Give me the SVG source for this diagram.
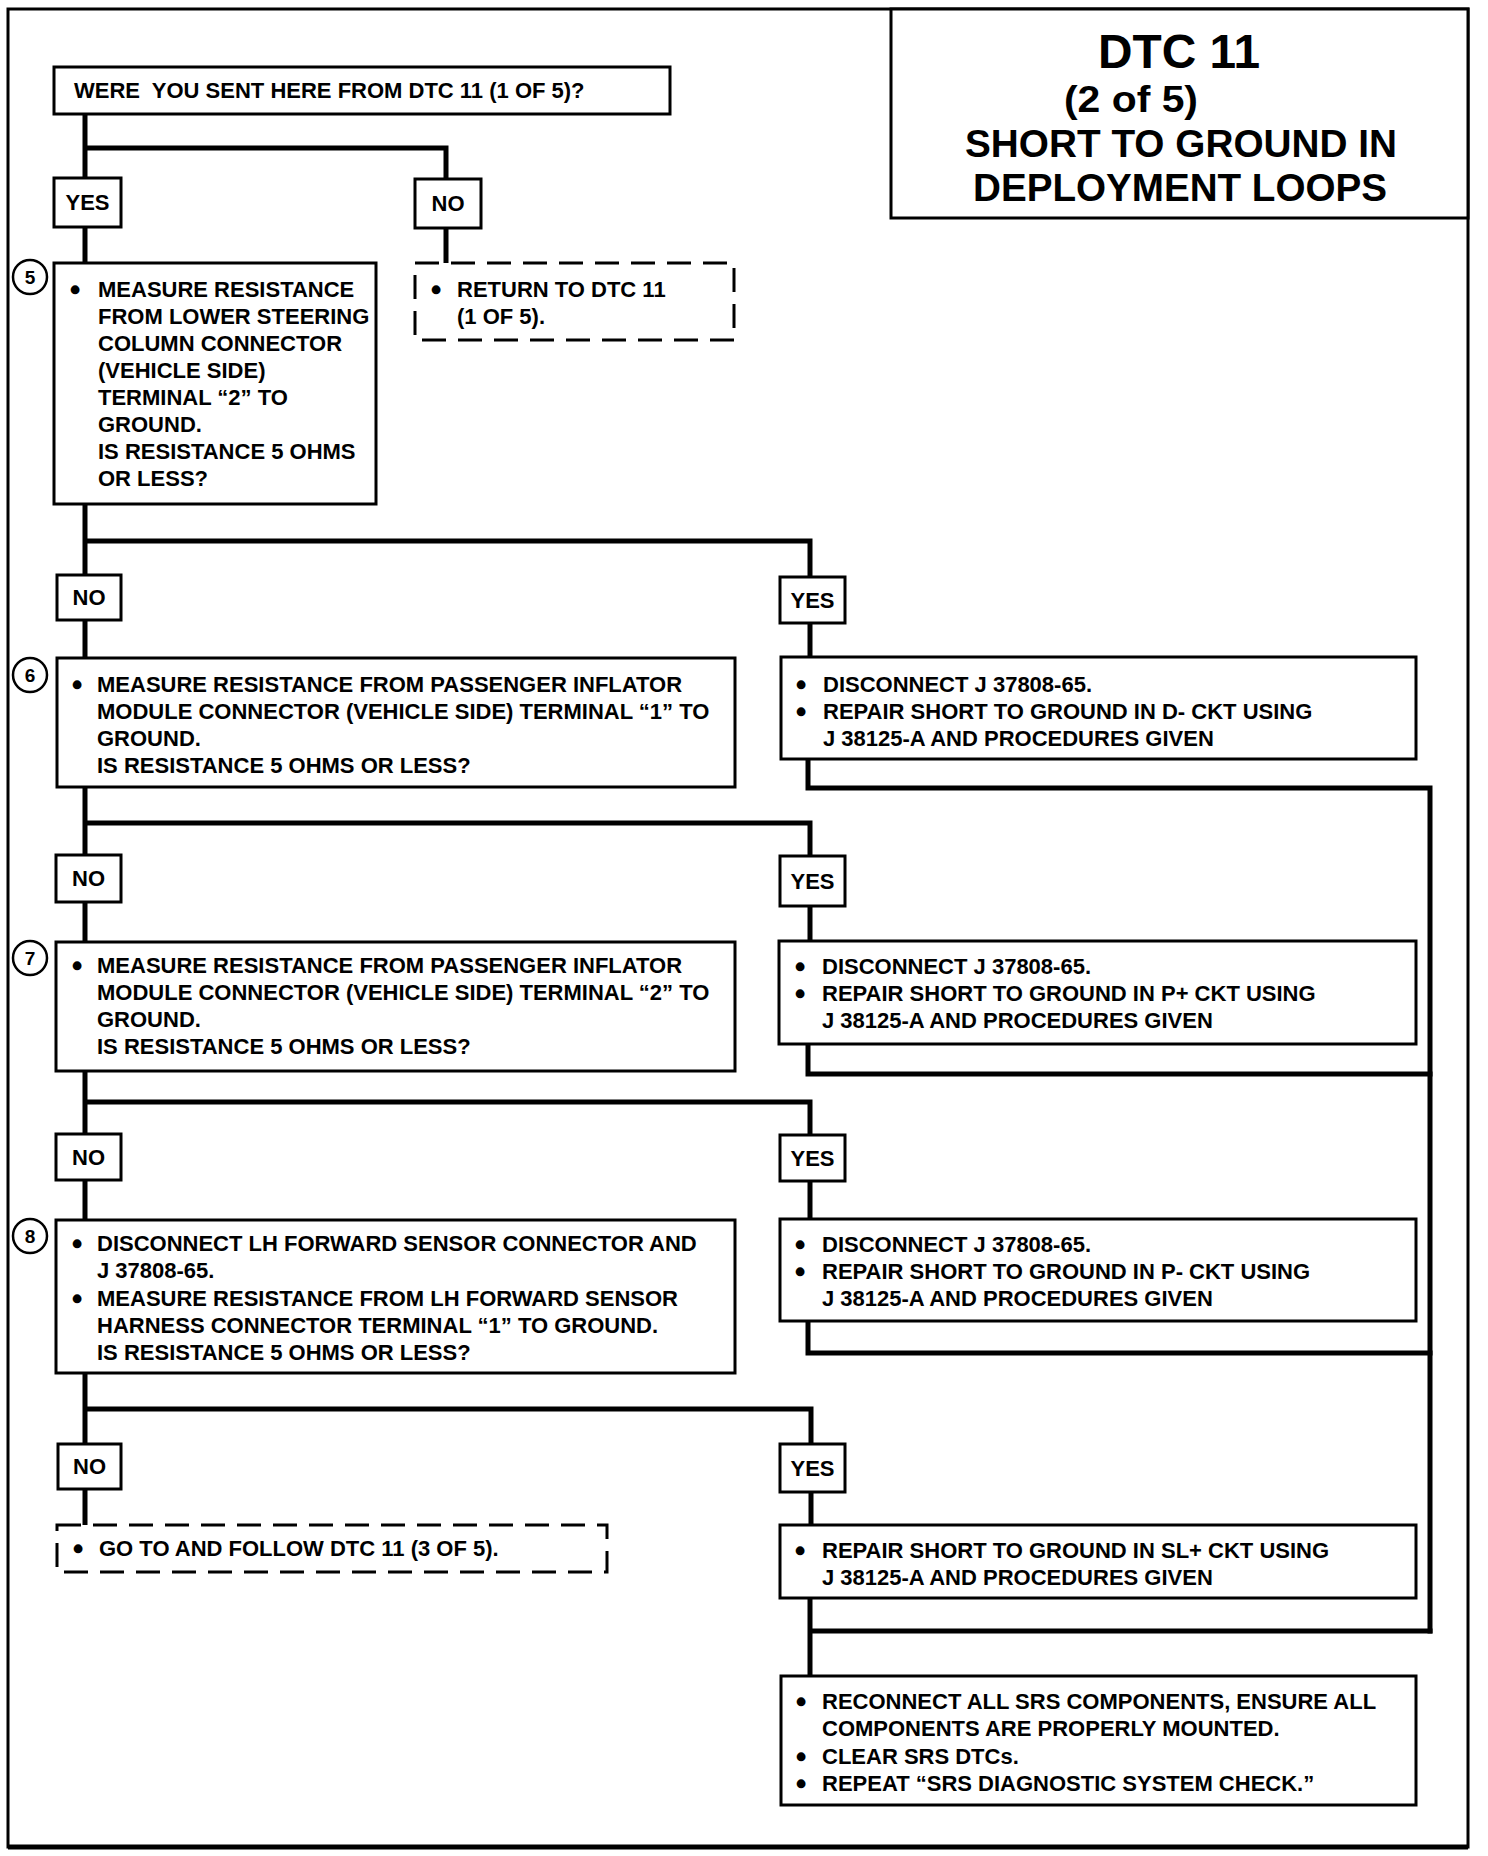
<svg xmlns="http://www.w3.org/2000/svg" width="1488" height="1856" viewBox="0 0 1488 1856">
<style>
.bg{fill:#fff}
.frame{fill:none;stroke:#000;stroke-width:3}
.box{fill:#fff;stroke:#000;stroke-width:3}
.dash{fill:#fff;stroke:#000;stroke-width:3;stroke-dasharray:24 12}
.conn{fill:none;stroke:#000;stroke-width:5;stroke-linejoin:miter;stroke-linecap:square}
.circ{fill:#fff;stroke:#000;stroke-width:2.5}
.t{font-family:"Liberation Sans",Arial,Helvetica,sans-serif;font-weight:bold;font-size:22px;fill:#000;white-space:pre}
.m{text-anchor:middle}
.n{font-size:19px}
.b{stroke:#000;stroke-width:2.5}
.tt{font-family:"Liberation Sans",Arial,Helvetica,sans-serif;font-weight:bold;fill:#000;text-anchor:middle}
</style>
<rect class="bg" x="0" y="0" width="1488" height="1856"/>
<rect class="frame" x="8" y="9" width="1460" height="1838"/>
<line x1="8" y1="1847" x2="1468" y2="1847" stroke="#000" stroke-width="5"/>

<g id="connectors">
<path class="conn" d="M85,114 V263 M85,148 H446 V263"/>
<path class="conn" d="M85,504 V658 M85,541 H810 V657"/>
<path class="conn" d="M808,759 V788 H1430 V1631"/>
<path class="conn" d="M85,787 V942 M85,823 H810 V941"/>
<path class="conn" d="M808,1044 V1074 H1430"/>
<path class="conn" d="M85,1071 V1220 M85,1102 H810 V1219"/>
<path class="conn" d="M808,1321 V1353 H1430"/>
<path class="conn" d="M85,1373 V1525 M85,1409 H811 V1525"/>
<path class="conn" d="M810,1598 V1676 M810,1631 H1430"/>
</g>

<g id="title">
<rect class="box" x="891" y="9" width="577" height="209"/>
<text class="tt" x="1179" y="68" font-size="48" textLength="162" lengthAdjust="spacingAndGlyphs">DTC 11</text>
<text class="tt" x="1131" y="112" font-size="36" textLength="134" lengthAdjust="spacingAndGlyphs">(2 of 5)</text>
<text class="tt" x="1181" y="157" font-size="39" textLength="432" lengthAdjust="spacingAndGlyphs">SHORT TO GROUND IN</text>
<text class="tt" x="1180" y="201" font-size="39" textLength="414" lengthAdjust="spacingAndGlyphs">DEPLOYMENT LOOPS</text>
</g>

<g id="start">
<rect class="box" x="54" y="67" width="616" height="47"/>
<text class="t" x="74" y="98">WERE  YOU SENT HERE FROM DTC 11 (1 OF 5)?</text>
</g>

<g id="yes1"><rect class="box" x="54" y="178" width="67" height="49"/><text class="t m" x="87.5" y="210">YES</text></g>
<g id="no1"><rect class="box" x="415" y="179" width="66" height="49"/><text class="t m" x="448" y="211">NO</text></g>

<g id="step5">
<circle class="circ" cx="30" cy="277" r="17"/><text class="t m n" x="30" y="284">5</text>
<rect class="box" x="54" y="263" width="322" height="241"/>
<text class="t m b" x="75" y="297">•</text>
<text class="t" x="98" y="297">MEASURE RESISTANCE</text>
<text class="t" x="98" y="324">FROM LOWER STEERING</text>
<text class="t" x="98" y="351">COLUMN CONNECTOR</text>
<text class="t" x="98" y="378">(VEHICLE SIDE)</text>
<text class="t" x="98" y="405">TERMINAL “2” TO</text>
<text class="t" x="98" y="432">GROUND.</text>
<text class="t" x="98" y="459">IS RESISTANCE 5 OHMS</text>
<text class="t" x="98" y="486">OR LESS?</text>
</g>

<g id="return1">
<rect class="dash" x="415" y="263" width="319" height="77"/>
<text class="t m b" x="436" y="297">•</text>
<text class="t" x="457" y="297">RETURN TO DTC 11</text>
<text class="t" x="457" y="324">(1 OF 5).</text>
</g>

<g id="no2"><rect class="box" x="57" y="575" width="64" height="45"/><text class="t m" x="89" y="605">NO</text></g>
<g id="yes2"><rect class="box" x="780" y="577" width="65" height="46"/><text class="t m" x="812.5" y="608">YES</text></g>

<g id="step6">
<circle class="circ" cx="30" cy="675" r="17"/><text class="t m n" x="30" y="682">6</text>
<rect class="box" x="57" y="658" width="678" height="129"/>
<text class="t m b" x="77" y="692">•</text>
<text class="t" x="97" y="692">MEASURE RESISTANCE FROM PASSENGER INFLATOR</text>
<text class="t" x="97" y="719">MODULE CONNECTOR (VEHICLE SIDE) TERMINAL “1” TO</text>
<text class="t" x="97" y="746">GROUND.</text>
<text class="t" x="97" y="773">IS RESISTANCE 5 OHMS OR LESS?</text>
</g>

<g id="repairD">
<rect class="box" x="781" y="657" width="635" height="102"/>
<text class="t m b" x="801" y="692">•</text>
<text class="t" x="823" y="692">DISCONNECT J 37808-65.</text>
<text class="t m b" x="801" y="719">•</text>
<text class="t" x="823" y="719">REPAIR SHORT TO GROUND IN D- CKT USING</text>
<text class="t" x="823" y="746">J 38125-A AND PROCEDURES GIVEN</text>
</g>

<g id="no3"><rect class="box" x="56" y="855" width="65" height="47"/><text class="t m" x="88.5" y="886">NO</text></g>
<g id="yes3"><rect class="box" x="780" y="856" width="65" height="50"/><text class="t m" x="812.5" y="889">YES</text></g>

<g id="step7">
<circle class="circ" cx="30" cy="958" r="17"/><text class="t m n" x="30" y="965">7</text>
<rect class="box" x="56" y="942" width="679" height="129"/>
<text class="t m b" x="77" y="973">•</text>
<text class="t" x="97" y="973">MEASURE RESISTANCE FROM PASSENGER INFLATOR</text>
<text class="t" x="97" y="1000">MODULE CONNECTOR (VEHICLE SIDE) TERMINAL “2” TO</text>
<text class="t" x="97" y="1027">GROUND.</text>
<text class="t" x="97" y="1054">IS RESISTANCE 5 OHMS OR LESS?</text>
</g>

<g id="repairPplus">
<rect class="box" x="779" y="941" width="637" height="103"/>
<text class="t m b" x="800" y="974">•</text>
<text class="t" x="822" y="974">DISCONNECT J 37808-65.</text>
<text class="t m b" x="800" y="1001">•</text>
<text class="t" x="822" y="1001">REPAIR SHORT TO GROUND IN P+ CKT USING</text>
<text class="t" x="822" y="1028">J 38125-A AND PROCEDURES GIVEN</text>
</g>

<g id="no4"><rect class="box" x="56" y="1134" width="65" height="46"/><text class="t m" x="88.5" y="1165">NO</text></g>
<g id="yes4"><rect class="box" x="780" y="1135" width="65" height="46"/><text class="t m" x="812.5" y="1166">YES</text></g>

<g id="step8">
<circle class="circ" cx="30" cy="1236" r="17"/><text class="t m n" x="30" y="1243">8</text>
<rect class="box" x="56" y="1220" width="679" height="153"/>
<text class="t m b" x="77" y="1251">•</text>
<text class="t" x="97" y="1251">DISCONNECT LH FORWARD SENSOR CONNECTOR AND</text>
<text class="t" x="97" y="1278">J 37808-65.</text>
<text class="t m b" x="77" y="1306">•</text>
<text class="t" x="97" y="1306">MEASURE RESISTANCE FROM LH FORWARD SENSOR</text>
<text class="t" x="97" y="1333">HARNESS CONNECTOR TERMINAL “1” TO GROUND.</text>
<text class="t" x="97" y="1360">IS RESISTANCE 5 OHMS OR LESS?</text>
</g>

<g id="repairPminus">
<rect class="box" x="780" y="1219" width="636" height="102"/>
<text class="t m b" x="800" y="1252">•</text>
<text class="t" x="822" y="1252">DISCONNECT J 37808-65.</text>
<text class="t m b" x="800" y="1279">•</text>
<text class="t" x="822" y="1279">REPAIR SHORT TO GROUND IN P- CKT USING</text>
<text class="t" x="822" y="1306">J 38125-A AND PROCEDURES GIVEN</text>
</g>

<g id="no5"><rect class="box" x="58" y="1444" width="63" height="45"/><text class="t m" x="89.5" y="1474">NO</text></g>
<g id="yes5"><rect class="box" x="780" y="1444" width="65" height="48"/><text class="t m" x="812.5" y="1476">YES</text></g>

<g id="goto3">
<rect class="dash" x="57" y="1525" width="550" height="47"/>
<text class="t m b" x="78" y="1556">•</text>
<text class="t" x="99" y="1556">GO TO AND FOLLOW DTC 11 (3 OF 5).</text>
</g>

<g id="repairSL">
<rect class="box" x="780" y="1525" width="636" height="73"/>
<text class="t m b" x="800" y="1558">•</text>
<text class="t" x="822" y="1558">REPAIR SHORT TO GROUND IN SL+ CKT USING</text>
<text class="t" x="822" y="1585">J 38125-A AND PROCEDURES GIVEN</text>
</g>

<g id="final">
<rect class="box" x="781" y="1676" width="635" height="129"/>
<text class="t m b" x="801" y="1709">•</text>
<text class="t" x="822" y="1709">RECONNECT ALL SRS COMPONENTS, ENSURE ALL</text>
<text class="t" x="822" y="1736">COMPONENTS ARE PROPERLY MOUNTED.</text>
<text class="t m b" x="801" y="1764">•</text>
<text class="t" x="822" y="1764">CLEAR SRS DTCs.</text>
<text class="t m b" x="801" y="1791">•</text>
<text class="t" x="822" y="1791">REPEAT “SRS DIAGNOSTIC SYSTEM CHECK.”</text>
</g>
</svg>
